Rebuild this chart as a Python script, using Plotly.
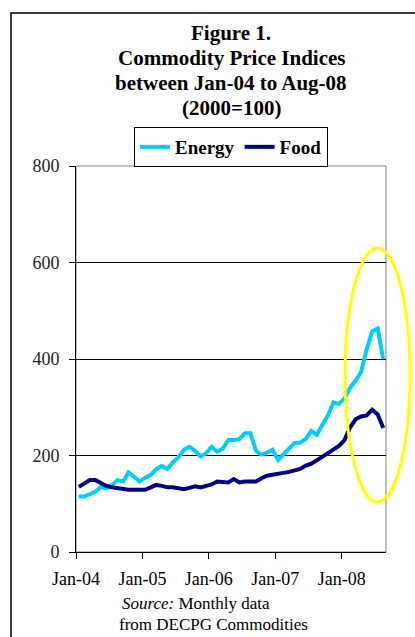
import plotly.graph_objects as go
import pandas as pd

months = list(pd.date_range("2004-01-01", periods=56, freq="MS").strftime("%b-%y"))

energy = [115, 115, 120, 125, 135, 132, 139, 149, 146, 165, 156, 146,
          154, 160, 172, 178, 172, 186, 196, 212, 218, 210, 198, 205,
          218, 208, 214, 232, 232, 234, 246, 246, 210, 202, 206, 212,
          191, 202, 214, 226, 227, 234, 251, 243, 263, 283, 310, 307,
          318, 340, 355, 373, 420, 457, 463, 400]

food = [135, 142, 149, 149, 142, 137, 134, 132, 130, 129, 129, 129,
        129, 134, 139, 137, 134, 134, 133, 130, 133, 136, 134, 137,
        140, 146, 144, 144, 151, 144, 146, 146, 146, 153, 158, 160,
        161, 164, 166, 168, 172, 179, 183, 190, 197, 205, 212, 220,
        232, 258, 275, 281, 283, 295, 285, 257]

y_ticks = [0, 200, 400, 600, 800]

idx = list(range(len(months)))
tick_pos = [i - 0.5 for i, m in enumerate(months) if m.startswith("Jan")]
tick_txt = [m for m in months if m.startswith("Jan")]

SERIF = "Liberation Serif"

fig = go.Figure()
fig.add_trace(go.Scatter(x=idx, y=energy, mode="lines", name="Energy",
                         line=dict(color="#00CCFF", width=4)))
fig.add_trace(go.Scatter(x=idx, y=food, mode="lines", name="Food",
                         line=dict(color="#000080", width=4)))

W, H = 415, 637
L, R, T, B = 76, 29, 166, 85
pw, ph = W - L - R, H - T - B

def px(x):
    return (x - L) / pw

def py(y):
    return (H - B - y) / ph

fig.update_layout(
    width=W, height=H,
    margin=dict(l=L, r=R, t=T, b=B),
    paper_bgcolor="white", plot_bgcolor="white",
    font=dict(family=SERIF, color="black"),
    showlegend=True,
    legend=dict(orientation="h", x=0.5, xanchor="center", y=py(127), yanchor="top",
                bordercolor="black", borderwidth=1, bgcolor="white",
                font=dict(family=SERIF, size=19, color="black", weight="bold"),
                itemwidth=30, traceorder="normal"),
    xaxis=dict(range=[-0.5, len(months) - 0.5], tickmode="array",
               tickvals=tick_pos, ticktext=tick_txt, showgrid=False,
               zeroline=False, showline=True, linecolor="black", linewidth=1,
               ticks="outside", ticklen=6, tickcolor="black",
               tickfont=dict(family=SERIF, size=18, color="black"),
               ticklabelstandoff=4),
    yaxis=dict(range=[0, 800], tickmode="array", tickvals=y_ticks,
               showgrid=True, gridcolor="black", gridwidth=1,
               zeroline=False, showline=True, linecolor="black", linewidth=1,
               ticks="outside", ticklen=6, tickcolor="black",
               tickfont=dict(family=SERIF, size=18, color="#222222"),
               ticklabelstandoff=6),
)

shapes = [
    dict(type="rect", xref="paper", yref="paper", x0=0, x1=1, y0=0, y1=1,
         line=dict(color="#808080", width=1), layer="below"),
    dict(type="rect", xref="paper", yref="paper", x0=px(11), x1=px(430),
         y0=py(650), y1=py(13), line=dict(color="black", width=1.5)),
    dict(type="circle", xref="paper", yref="paper", x0=px(345), x1=px(410),
         y0=py(502), y1=py(248), line=dict(color="#FFFF00", width=3)),
]
fig.update_layout(shapes=shapes)

title_lines = ["Figure 1.", "Commodity Price Indices",
               "between Jan-04 to Aug-08", "(2000=100)"]
title_y = [33, 58, 83, 108]
for t, yy in zip(title_lines, title_y):
    fig.add_annotation(text="<b>%s</b>" % t, xref="paper", yref="paper",
                       x=px(231), y=py(yy), xanchor="center", yanchor="middle",
                       showarrow=False, font=dict(family=SERIF, size=21, color="black"))

fig.add_annotation(text="<i>Source:</i> Monthly data", xref="paper", yref="paper",
                   x=px(196), y=py(603), xanchor="center", yanchor="middle",
                   showarrow=False, font=dict(family=SERIF, size=17, color="black"))
fig.add_annotation(text="from DECPG Commodities", xref="paper", yref="paper",
                   x=px(213), y=py(624), xanchor="center", yanchor="middle",
                   showarrow=False, font=dict(family=SERIF, size=17, color="black"))

fig.write_html("out.html", config={"displayModeBar": False},
               post_script="document.body.style.margin='0';")
